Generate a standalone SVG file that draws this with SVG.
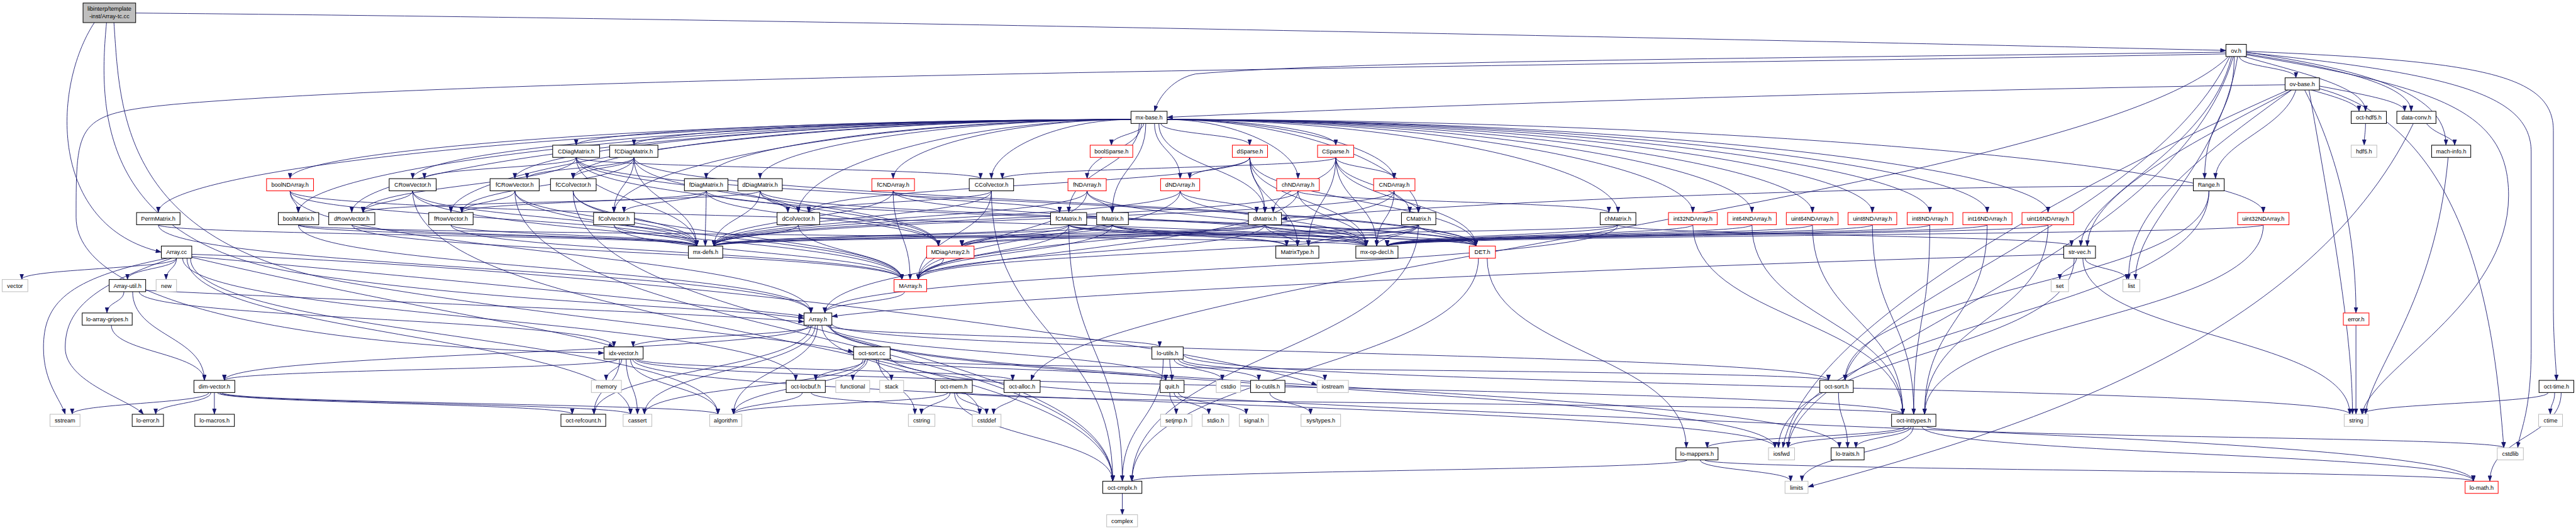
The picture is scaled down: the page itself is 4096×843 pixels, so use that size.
<svg xmlns="http://www.w3.org/2000/svg" width="4096" height="843" viewBox="0 0 4096 843">
<style>
#edges path{fill:none;stroke:#191970;stroke-width:1.3;marker-end:url(#a)}
.n rect{fill:#fff;stroke:#000;stroke-width:1.5}
.r rect{stroke:#ff0000}
.g rect{stroke:#bfbfbf}
text{font-family:"Liberation Sans",Arial,Helvetica,sans-serif;font-size:13.3px;text-anchor:middle;fill:#000}
</style>
<defs>
<marker id="a" viewBox="0 0 14 10" refX="13" refY="5" markerWidth="14" markerHeight="10" markerUnits="userSpaceOnUse" orient="auto"><path d="M0,0L14,5L0,10z" fill="#191970"/></marker>
</defs>
<rect width="4096" height="843" fill="#fff"/>
<g transform="scale(0.69142)">
<g id="edges">
<path d="M312,30 C2000,45 4400,100 5119,116"/>
<path d="M217,52 C120,200 110,520 371,580"/>
<path d="M245,52 C226,250 226,560 700,630 S1650,705 1849,732"/>
<path d="M262,52 C276,250 276,560 800,650 S1850,780 1963,810"/>
<path d="M5150,130 C5150,155 5280,155 5280,179"/>
<path d="M5138,130 C5138,270 5070,270 5070,411"/>
<path d="M5160,130 C5300,170 5440,200 5440,256"/>
<path d="M5166,124 C5400,160 5545,200 5545,256"/>
<path d="M5166,120 C5500,170 5625,230 5625,334"/>
<path d="M5119,120 C4000,135 3100,140 2750,170 C2700,180 2665,220 2655,256"/>
<path d="M5119,124 C3800,150 1200,170 400,240 C175,262 175,280 175,500 C175,700 700,800 1389,812"/>
<path d="M5125,130 C4800,450 2450,650 2371,875"/>
<path d="M5166,118 C5700,140 5872,170 5872,300 L5872,700 C5872,800 5879,840 5879,875"/>
<path d="M5166,121 C5650,170 5821,220 5821,350 L5821,800 C5821,950 5795,990 5790,1030"/>
<path d="M5166,126 C5600,200 5769,250 5769,450 C5769,700 5450,850 5432,953"/>
<path d="M5132,130 C5080,350 4790,450 4785,566"/>
<path d="M5128,130 C4950,500 4260,700 4243,875"/>
<path d="M5136,130 C5000,600 4130,800 4112,1030"/>
<path d="M5146,130 C5100,400 4911,500 4911,643"/>
<path d="M5255,195 C4500,205 3300,240 2684,270"/>
<path d="M5280,207 C5250,300 5095,330 5095,411"/>
<path d="M5334,198 C5450,220 5530,235 5530,256"/>
<path d="M5315,207 C5380,225 5425,240 5425,256"/>
<path d="M5270,207 C5000,350 4805,450 4800,566"/>
<path d="M5300,207 C5400,400 5418,600 5418,720"/>
<path d="M5334,204 C5700,300 5740,800 5758,1030"/>
<path d="M5262,207 C4600,500 4140,800 4100,1030"/>
<path d="M5270,207 C5000,400 4895,500 4895,643"/>
<path d="M5310,207 C5380,600 5410,800 5410,953"/>
<path d="M5440,284 C5440,309 5437,309 5437,334"/>
<path d="M5580,284 C5600,310 5645,315 5645,334"/>
<path d="M5550,284 C5300,800 4600,1000 4158,1120"/>
<path d="M5630,362 C5600,700 5450,850 5440,953"/>
<path d="M2601,275 C1963,275 1325,304 1325,334"/>
<path d="M2601,275 C2030,275 1458,304 1458,334"/>
<path d="M2601,275 C1634,275 667,343 667,411"/>
<path d="M2601,275 C1775,275 949,343 949,411"/>
<path d="M2601,275 C1893,275 1184,343 1184,411"/>
<path d="M2601,275 C1960,275 1318,343 1318,411"/>
<path d="M2601,275 C2113,275 1624,343 1624,411"/>
<path d="M2601,275 C2175,275 1748,343 1748,411"/>
<path d="M2601,275 C2328,275 2054,343 2054,411"/>
<path d="M2601,275 C2441,275 2280,343 2280,411"/>
<path d="M2601,275 C1483,275 364,382 364,489"/>
<path d="M2601,275 C1644,275 686,382 686,489"/>
<path d="M2601,275 C1705,275 809,382 809,489"/>
<path d="M2601,275 C1819,275 1037,382 1037,489"/>
<path d="M2601,275 C2007,275 1412,382 1412,489"/>
<path d="M2601,275 C2219,275 1836,382 1836,489"/>
<path d="M2620,284 C2620,386 2458,386 2458,489"/>
<path d="M2630,284 C2630,309 2556,309 2556,334"/>
<path d="M2625,284 C2625,347 2500,347 2500,411"/>
<path d="M2635,284 C2635,386 2558,386 2558,489"/>
<path d="M2655,284 C2655,347 2714,347 2714,411"/>
<path d="M2670,284 C2670,309 2874,309 2874,334"/>
<path d="M2665,284 C2665,386 2909,386 2909,489"/>
<path d="M2684,275 C2835,275 2985,343 2985,411"/>
<path d="M2684,275 C2878,275 3072,304 3072,334"/>
<path d="M2684,275 C2945,275 3206,343 3206,411"/>
<path d="M2684,275 C2973,275 3262,382 3262,489"/>
<path d="M2684,275 C3203,275 3721,382 3721,489"/>
<path d="M2684,275 C3289,275 3893,382 3893,489"/>
<path d="M2684,275 C3357,275 4029,382 4029,489"/>
<path d="M2684,275 C3426,275 4168,382 4168,489"/>
<path d="M2684,275 C3495,275 4306,382 4306,489"/>
<path d="M2684,275 C3561,275 4438,382 4438,489"/>
<path d="M2684,275 C3627,275 4570,382 4570,489"/>
<path d="M2684,275 C3697,275 4710,382 4710,489"/>
<path d="M2684,275 C3945,275 5205,382 5205,489"/>
<path d="M1325,362 C1325,386 976,386 976,411"/>
<path d="M1325,362 C1325,425 835,425 835,489"/>
<path d="M1325,362 C1325,425 1812,425 1812,489"/>
<path d="M1325,362 C1325,386 2255,386 2255,411"/>
<path d="M1325,362 C1325,464 2158,464 2158,566"/>
<path d="M1325,362 C1325,464 3394,464 3394,566"/>
<path d="M1325,362 C1325,464 1602,464 1602,566"/>
<path d="M1458,362 C1458,386 1212,386 1212,411"/>
<path d="M1458,362 C1458,386 1318,386 1318,411"/>
<path d="M1458,362 C1458,425 1062,425 1062,489"/>
<path d="M1458,362 C1458,425 1412,425 1412,489"/>
<path d="M1458,362 C1458,464 2158,464 2158,566"/>
<path d="M1458,362 C1458,464 3394,464 3394,566"/>
<path d="M1458,362 C1458,464 1602,464 1602,566"/>
<path d="M2874,362 C2874,386 2736,386 2736,411"/>
<path d="M2874,362 C2874,425 2909,425 2909,489"/>
<path d="M2874,362 C2874,425 1860,425 1860,489"/>
<path d="M2874,362 C2874,464 2984,464 2984,566"/>
<path d="M2874,362 C2874,464 3394,464 3394,566"/>
<path d="M2874,362 C2874,464 3142,464 3142,566"/>
<path d="M3072,362 C3072,386 3206,386 3206,411"/>
<path d="M3072,362 C3072,425 3242,425 3242,489"/>
<path d="M3072,362 C3072,386 2305,386 2305,411"/>
<path d="M3072,362 C3072,425 2928,425 2928,489"/>
<path d="M3072,362 C3072,464 3009,464 3009,566"/>
<path d="M3072,362 C3072,464 3394,464 3394,566"/>
<path d="M3072,362 C3072,464 3166,464 3166,566"/>
<path d="M667,439 C667,464 686,464 686,489"/>
<path d="M667,439 C667,502 1602,502 1602,566"/>
<path d="M667,439 C667,502 3142,502 3142,566"/>
<path d="M667,439 C667,580 1865,580 1865,720"/>
<path d="M949,439 C949,464 835,464 835,489"/>
<path d="M949,439 C949,541 2074,541 2074,643"/>
<path d="M949,439 C949,502 1602,502 1602,566"/>
<path d="M949,439 C949,773 2559,773 2559,1107"/>
<path d="M1184,439 C1184,464 1062,464 1062,489"/>
<path d="M1184,439 C1184,541 2074,541 2074,643"/>
<path d="M1184,439 C1184,502 1602,502 1602,566"/>
<path d="M1184,439 C1184,773 2559,773 2559,1107"/>
<path d="M1318,439 C1318,541 2074,541 2074,643"/>
<path d="M1318,439 C1318,502 1602,502 1602,566"/>
<path d="M1318,439 C1318,773 2559,773 2559,1107"/>
<path d="M1624,439 C1624,464 1062,464 1062,489"/>
<path d="M1624,439 C1624,464 1435,464 1435,489"/>
<path d="M1624,439 C1624,502 2158,502 2158,566"/>
<path d="M1624,439 C1624,502 3394,502 3394,566"/>
<path d="M1624,439 C1624,502 1622,502 1622,566"/>
<path d="M1748,439 C1748,464 835,464 835,489"/>
<path d="M1748,439 C1748,464 1836,464 1836,489"/>
<path d="M1748,439 C1748,502 2158,502 2158,566"/>
<path d="M1748,439 C1748,502 3394,502 3394,566"/>
<path d="M1748,439 C1748,502 1642,502 1642,566"/>
<path d="M2054,439 C2054,464 2437,464 2437,489"/>
<path d="M2054,439 C2054,541 2093,541 2093,643"/>
<path d="M2054,439 C2054,502 1642,502 1642,566"/>
<path d="M2054,439 C2054,502 3142,502 3142,566"/>
<path d="M2280,439 C2280,464 1860,464 1860,489"/>
<path d="M2280,439 C2280,541 2112,541 2112,643"/>
<path d="M2280,439 C2280,502 1642,502 1642,566"/>
<path d="M2280,439 C2280,773 2559,773 2559,1107"/>
<path d="M2500,439 C2500,464 2558,464 2558,489"/>
<path d="M2500,439 C2500,541 2112,541 2112,643"/>
<path d="M2500,439 C2500,502 1642,502 1642,566"/>
<path d="M2500,439 C2500,502 3142,502 3142,566"/>
<path d="M2714,439 C2714,464 2890,464 2890,489"/>
<path d="M2714,439 C2714,541 2112,541 2112,643"/>
<path d="M2714,439 C2714,502 1642,502 1642,566"/>
<path d="M2714,439 C2714,502 3142,502 3142,566"/>
<path d="M2985,439 C2985,464 3700,464 3700,489"/>
<path d="M2985,439 C2985,580 1897,580 1897,720"/>
<path d="M2985,439 C2985,502 1642,502 1642,566"/>
<path d="M2985,439 C2985,502 3142,502 3142,566"/>
<path d="M3206,439 C3206,464 3262,464 3262,489"/>
<path d="M3206,439 C3206,541 2112,541 2112,643"/>
<path d="M3206,439 C3206,502 1642,502 1642,566"/>
<path d="M3206,439 C3206,502 3166,502 3166,566"/>
<path d="M5044,427 C4000,430 3200,480 2947,503"/>
<path d="M5080,439 C5080,657 4243,657 4243,875"/>
<path d="M5080,439 C5080,734 4112,734 4112,1030"/>
<path d="M364,517 C364,618 1865,618 1865,720"/>
<path d="M364,517 C364,541 1602,541 1602,566"/>
<path d="M686,517 C686,618 1865,618 1865,720"/>
<path d="M686,517 C686,541 1602,541 1602,566"/>
<path d="M686,517 C686,541 3142,541 3142,566"/>
<path d="M809,517 C809,580 2074,580 2074,643"/>
<path d="M809,517 C809,541 1602,541 1602,566"/>
<path d="M1037,517 C1037,580 2074,580 2074,643"/>
<path d="M1037,517 C1037,541 1602,541 1602,566"/>
<path d="M1412,517 C1412,580 2074,580 2074,643"/>
<path d="M1412,517 C1412,541 1602,541 1602,566"/>
<path d="M1836,517 C1836,580 2074,580 2074,643"/>
<path d="M1836,517 C1836,541 1642,541 1642,566"/>
<path d="M2458,517 C2458,580 2112,580 2112,643"/>
<path d="M2458,517 C2458,541 2212,541 2212,566"/>
<path d="M2458,517 C2458,541 2959,541 2959,566"/>
<path d="M2458,517 C2458,541 3394,541 3394,566"/>
<path d="M2458,517 C2458,541 1642,541 1642,566"/>
<path d="M2458,517 C2458,541 3142,541 3142,566"/>
<path d="M2458,517 C2458,812 2581,812 2581,1107"/>
<path d="M2558,517 C2558,580 2112,580 2112,643"/>
<path d="M2558,517 C2558,541 2212,541 2212,566"/>
<path d="M2558,517 C2558,541 2959,541 2959,566"/>
<path d="M2558,517 C2558,541 3394,541 3394,566"/>
<path d="M2558,517 C2558,541 1642,541 1642,566"/>
<path d="M2558,517 C2558,541 3142,541 3142,566"/>
<path d="M2909,517 C2909,580 2112,580 2112,643"/>
<path d="M2909,517 C2909,541 2212,541 2212,566"/>
<path d="M2909,517 C2909,541 2984,541 2984,566"/>
<path d="M2909,517 C2909,541 3394,541 3394,566"/>
<path d="M2909,517 C2909,541 1642,541 1642,566"/>
<path d="M2909,517 C2909,541 3142,541 3142,566"/>
<path d="M3262,517 C3262,580 2112,580 2112,643"/>
<path d="M3262,517 C3262,541 2212,541 2212,566"/>
<path d="M3262,517 C3262,541 3009,541 3009,566"/>
<path d="M3262,517 C3262,541 3394,541 3394,566"/>
<path d="M3262,517 C3262,541 1642,541 1642,566"/>
<path d="M3262,517 C3262,541 3166,541 3166,566"/>
<path d="M3262,517 C3262,812 2603,812 2603,1107"/>
<path d="M3721,517 C3721,618 1897,618 1897,720"/>
<path d="M3721,517 C3721,541 1642,541 1642,566"/>
<path d="M3721,517 C3721,541 3190,541 3190,566"/>
<path d="M3721,517 C3721,541 4764,541 4764,566"/>
<path d="M3893,517 C3893,735 4376,735 4376,953"/>
<path d="M3893,517 C3893,541 3190,541 3190,566"/>
<path d="M4029,517 C4029,735 4376,735 4376,953"/>
<path d="M4029,517 C4029,541 3190,541 3190,566"/>
<path d="M4168,517 C4168,735 4376,735 4376,953"/>
<path d="M4168,517 C4168,541 3190,541 3190,566"/>
<path d="M4306,517 C4306,735 4401,735 4401,953"/>
<path d="M4306,517 C4306,541 3190,541 3190,566"/>
<path d="M4438,517 C4438,735 4401,735 4401,953"/>
<path d="M4438,517 C4438,541 3190,541 3190,566"/>
<path d="M4570,517 C4570,735 4426,735 4426,953"/>
<path d="M4570,517 C4570,541 3190,541 3190,566"/>
<path d="M4710,517 C4710,735 4426,735 4426,953"/>
<path d="M4710,517 C4710,541 3190,541 3190,566"/>
<path d="M5205,517 C5205,735 4426,735 4426,953"/>
<path d="M5205,517 C5205,541 3190,541 3190,566"/>
<path d="M406,594 C406,618 50,618 50,643"/>
<path d="M406,594 C406,618 293,618 293,643"/>
<path d="M406,594 C406,618 382,618 382,643"/>
<path d="M385,594 C150,640 100,700 100,800 C100,880 140,920 150,953"/>
<path d="M395,594 C200,660 150,720 150,800 C150,880 300,920 330,953"/>
<path d="M441,590 C1000,640 1600,700 1849,727"/>
<path d="M441,592 C900,700 1300,760 1412,798"/>
<path d="M420,594 C420,734 1830,734 1830,875"/>
<path d="M430,594 C430,773 1450,773 1450,953"/>
<path d="M438,594 C438,773 1651,773 1651,953"/>
<path d="M441,585 C1500,620 2800,800 3029,886"/>
<path d="M2170,594 C2170,618 2112,618 2112,643"/>
<path d="M3420,594 C3420,812 3878,812 3878,1030"/>
<path d="M3400,594 C3400,850 2603,850 2603,1107"/>
<path d="M4775,594 C4775,618 4737,618 4737,643"/>
<path d="M4795,594 C4795,618 4891,618 4891,643"/>
<path d="M4790,594 C4790,773 5404,773 5404,953"/>
<path d="M4770,594 C4770,812 4090,812 4090,1030"/>
<path d="M4746,585 C3500,620 2200,690 1913,728"/>
<path d="M285,671 C285,695 246,695 246,720"/>
<path d="M305,671 C305,773 470,773 470,875"/>
<path d="M335,668 C1000,700 1600,720 1849,740"/>
<path d="M320,671 C320,734 1412,734 1412,798"/>
<path d="M2080,671 C2080,695 1897,695 1897,720"/>
<path d="M256,748 C256,811 470,811 470,875"/>
<path d="M1870,748 C1870,773 1456,773 1456,798"/>
<path d="M1860,748 C1860,811 516,811 516,875"/>
<path d="M1865,748 C1865,850 1366,850 1366,953"/>
<path d="M1875,748 C1875,850 1482,850 1482,953"/>
<path d="M1880,748 C1880,850 1687,850 1687,953"/>
<path d="M1890,748 C1890,850 2253,850 2253,953"/>
<path d="M1900,748 C1900,773 2667,773 2667,798"/>
<path d="M1905,748 C1905,811 2681,811 2681,875"/>
<path d="M1913,745 C1913,811 4205,811 4205,875"/>
<path d="M1910,748 C1910,889 4230,889 4230,1030"/>
<path d="M1908,748 C1908,889 4082,889 4082,1030"/>
<path d="M5418,748 L5418,953"/>
<path d="M1420,826 C1420,850 516,850 516,875"/>
<path d="M1425,826 C1425,889 1366,889 1366,953"/>
<path d="M1430,826 C1430,850 1394,850 1394,875"/>
<path d="M1440,826 C1440,889 1466,889 1466,953"/>
<path d="M1450,826 C1450,889 1651,889 1651,953"/>
<path d="M1460,826 C1460,889 4376,889 4376,953"/>
<path d="M1455,826 C1455,928 4082,928 4082,1030"/>
<path d="M1465,826 C1465,850 2329,850 2329,875"/>
<path d="M2030,826 C2030,850 4205,850 4205,875"/>
<path d="M1990,826 C1990,850 1876,850 1876,875"/>
<path d="M1995,826 C1995,850 1961,850 1961,875"/>
<path d="M2015,826 C2015,850 2050,850 2050,875"/>
<path d="M2020,826 C2020,889 2104,889 2104,953"/>
<path d="M1990,826 C1990,889 1687,889 1687,953"/>
<path d="M1985,826 C1985,889 1482,889 1482,953"/>
<path d="M2040,826 C2040,850 2681,850 2681,875"/>
<path d="M2047,820 C2047,966 5688,966 5688,1107"/>
<path d="M2690,826 C2690,850 2695,850 2695,875"/>
<path d="M2700,826 C2700,850 2811,850 2811,875"/>
<path d="M2710,826 C2710,850 2895,850 2895,875"/>
<path d="M2675,826 C2675,966 2581,966 2581,1107"/>
<path d="M2718,826 C2718,850 3047,850 3047,875"/>
<path d="M2721,815 C2721,889 5404,889 5404,953"/>
<path d="M480,903 C480,928 166,928 166,953"/>
<path d="M485,903 C485,928 358,928 358,953"/>
<path d="M493,903 L493,953"/>
<path d="M500,903 C500,928 1316,928 1316,953"/>
<path d="M505,903 C505,928 1450,928 1450,953"/>
<path d="M510,903 C510,928 1651,928 1651,953"/>
<path d="M1845,903 C1845,928 1687,928 1687,953"/>
<path d="M1865,903 C1865,928 2253,928 2253,953"/>
<path d="M2185,903 C2185,928 2119,928 2119,953"/>
<path d="M2200,903 C2200,928 2269,928 2269,953"/>
<path d="M2195,903 C2195,1005 2559,1005 2559,1107"/>
<path d="M2210,903 C2210,928 4376,928 4376,953"/>
<path d="M2180,903 C2180,928 1687,928 1687,953"/>
<path d="M2345,903 C2345,928 2285,928 2285,953"/>
<path d="M2690,903 C2690,928 2705,928 2705,953"/>
<path d="M2700,903 C2700,928 2780,928 2780,953"/>
<path d="M2710,903 C2710,928 2866,928 2866,953"/>
<path d="M2920,903 C2920,928 3014,928 3014,953"/>
<path d="M4228,903 C4228,966 4249,966 4249,1030"/>
<path d="M5860,903 C5860,928 5432,928 5432,953"/>
<path d="M5875,903 C5875,928 5865,928 5865,953"/>
<path d="M5890,903 C5890,1005 5726,1005 5726,1107"/>
<path d="M4380,981 C4380,1005 3926,1005 3926,1030"/>
<path d="M4390,981 C4390,1005 4112,1005 4112,1030"/>
<path d="M4395,981 C4395,1005 4268,1005 4268,1030"/>
<path d="M4400,981 C4400,1044 4144,1044 4144,1107"/>
<path d="M4420,981 C4420,1044 5688,1044 5688,1107"/>
<path d="M4430,981 C4430,1005 5758,1005 5758,1030"/>
<path d="M3910,1058 C3910,1082 4118,1082 4118,1107"/>
<path d="M3920,1058 C3920,1082 5688,1082 5688,1107"/>
<path d="M3880,1058 C3880,1082 2603,1082 2603,1107"/>
<path d="M2581,1135 L2581,1184"/>
</g>
<g id="root" class="n"><rect x="191" y="7" width="121" height="45" fill="#bfbfbf" style="fill:#bfbfbf"/><text x="251.5" y="24.7">libinterp/template</text><text x="251.5" y="41.7">-inst/Array-tc.cc</text></g>
<g id="ov_h" class="n"><rect x="5119" y="102" width="47" height="28"/><text x="5142.5" y="121">ov.h</text></g>
<g id="ov_base_h" class="n"><rect x="5255" y="179" width="79" height="28"/><text x="5294.5" y="198">ov-base.h</text></g>
<g id="mx_base_h" class="n"><rect x="2601" y="256" width="83" height="28"/><text x="2642.5" y="275">mx-base.h</text></g>
<g id="oct_hdf5_h" class="n"><rect x="5407" y="256" width="81" height="28"/><text x="5447.5" y="275">oct-hdf5.h</text></g>
<g id="data_conv_h" class="n"><rect x="5512" y="256" width="90" height="28"/><text x="5557" y="275">data-conv.h</text></g>
<g id="CDiagMatrix_h" class="n"><rect x="1271" y="334" width="108" height="28"/><text x="1325" y="353">CDiagMatrix.h</text></g>
<g id="fCDiagMatrix_h" class="n"><rect x="1402" y="334" width="111" height="28"/><text x="1457.5" y="353">fCDiagMatrix.h</text></g>
<g id="boolSparse_h" class="n r"><rect x="2507" y="334" width="98" height="28"/><text x="2556" y="353">boolSparse.h</text></g>
<g id="dSparse_h" class="n r"><rect x="2834" y="334" width="81" height="28"/><text x="2874.5" y="353">dSparse.h</text></g>
<g id="CSparse_h" class="n r"><rect x="3030" y="334" width="83" height="28"/><text x="3071.5" y="353">CSparse.h</text></g>
<g id="hdf5_h" class="n g"><rect x="5407" y="334" width="59" height="28"/><text x="5436.5" y="353">hdf5.h</text></g>
<g id="mach_info_h" class="n"><rect x="5592" y="334" width="90" height="28"/><text x="5637" y="353">mach-info.h</text></g>
<g id="boolNDArray_h" class="n r"><rect x="613" y="411" width="108" height="28"/><text x="667" y="430">boolNDArray.h</text></g>
<g id="CRowVector_h" class="n"><rect x="895" y="411" width="108" height="28"/><text x="949" y="430">CRowVector.h</text></g>
<g id="fCRowVector_h" class="n"><rect x="1127" y="411" width="113" height="28"/><text x="1183.5" y="430">fCRowVector.h</text></g>
<g id="fCColVector_h" class="n"><rect x="1266" y="411" width="105" height="28"/><text x="1318.5" y="430">fCColVector.h</text></g>
<g id="fDiagMatrix_h" class="n"><rect x="1574" y="411" width="100" height="28"/><text x="1624" y="430">fDiagMatrix.h</text></g>
<g id="dDiagMatrix_h" class="n"><rect x="1697" y="411" width="102" height="28"/><text x="1748" y="430">dDiagMatrix.h</text></g>
<g id="fCNDArray_h" class="n r"><rect x="2005" y="411" width="98" height="28"/><text x="2054" y="430">fCNDArray.h</text></g>
<g id="CColVector_h" class="n"><rect x="2229" y="411" width="102" height="28"/><text x="2280" y="430">CColVector.h</text></g>
<g id="fNDArray_h" class="n r"><rect x="2456" y="411" width="88" height="28"/><text x="2500" y="430">fNDArray.h</text></g>
<g id="dNDArray_h" class="n r"><rect x="2669" y="411" width="90" height="28"/><text x="2714" y="430">dNDArray.h</text></g>
<g id="chNDArray_h" class="n r"><rect x="2936" y="411" width="98" height="28"/><text x="2985" y="430">chNDArray.h</text></g>
<g id="CNDArray_h" class="n r"><rect x="3159" y="411" width="95" height="28"/><text x="3206.5" y="430">CNDArray.h</text></g>
<g id="Range_h" class="n"><rect x="5044" y="411" width="71" height="28"/><text x="5079.5" y="430">Range.h</text></g>
<g id="PermMatrix_h" class="n"><rect x="314" y="489" width="100" height="28"/><text x="364" y="508">PermMatrix.h</text></g>
<g id="boolMatrix_h" class="n"><rect x="640" y="489" width="93" height="28"/><text x="686.5" y="508">boolMatrix.h</text></g>
<g id="dRowVector_h" class="n"><rect x="756" y="489" width="106" height="28"/><text x="809" y="508">dRowVector.h</text></g>
<g id="fRowVector_h" class="n"><rect x="986" y="489" width="102" height="28"/><text x="1037" y="508">fRowVector.h</text></g>
<g id="fColVector_h" class="n"><rect x="1365" y="489" width="94" height="28"/><text x="1412" y="508">fColVector.h</text></g>
<g id="dColVector_h" class="n"><rect x="1787" y="489" width="98" height="28"/><text x="1836" y="508">dColVector.h</text></g>
<g id="fCMatrix_h" class="n"><rect x="2416" y="489" width="83" height="28"/><text x="2457.5" y="508">fCMatrix.h</text></g>
<g id="fMatrix_h" class="n"><rect x="2522" y="489" width="73" height="28"/><text x="2558.5" y="508">fMatrix.h</text></g>
<g id="dMatrix_h" class="n"><rect x="2871" y="489" width="76" height="28"/><text x="2909" y="508">dMatrix.h</text></g>
<g id="CMatrix_h" class="n"><rect x="3223" y="489" width="79" height="28"/><text x="3262.5" y="508">CMatrix.h</text></g>
<g id="chMatrix_h" class="n"><rect x="3680" y="489" width="82" height="28"/><text x="3721" y="508">chMatrix.h</text></g>
<g id="int32NDArray_h" class="n r"><rect x="3837" y="489" width="112" height="28"/><text x="3893" y="508">int32NDArray.h</text></g>
<g id="int64NDArray_h" class="n r"><rect x="3973" y="489" width="112" height="28"/><text x="4029" y="508">int64NDArray.h</text></g>
<g id="uint64NDArray_h" class="n r"><rect x="4108" y="489" width="119" height="28"/><text x="4167.5" y="508">uint64NDArray.h</text></g>
<g id="uint8NDArray_h" class="n r"><rect x="4250" y="489" width="112" height="28"/><text x="4306" y="508">uint8NDArray.h</text></g>
<g id="int8NDArray_h" class="n r"><rect x="4386" y="489" width="105" height="28"/><text x="4438.5" y="508">int8NDArray.h</text></g>
<g id="int16NDArray_h" class="n r"><rect x="4514" y="489" width="113" height="28"/><text x="4570.5" y="508">int16NDArray.h</text></g>
<g id="uint16NDArray_h" class="n r"><rect x="4650" y="489" width="119" height="28"/><text x="4709.5" y="508">uint16NDArray.h</text></g>
<g id="uint32NDArray_h" class="n r"><rect x="5146" y="489" width="118" height="28"/><text x="5205" y="508">uint32NDArray.h</text></g>
<g id="Array_cc" class="n"><rect x="371" y="566" width="70" height="28"/><text x="406" y="585">Array.cc</text></g>
<g id="mx_defs_h" class="n"><rect x="1583" y="566" width="79" height="28"/><text x="1622.5" y="585">mx-defs.h</text></g>
<g id="MDiagArray2_h" class="n r"><rect x="2131" y="566" width="109" height="28"/><text x="2185.5" y="585">MDiagArray2.h</text></g>
<g id="MatrixType_h" class="n"><rect x="2934" y="566" width="99" height="28"/><text x="2983.5" y="585">MatrixType.h</text></g>
<g id="mx_op_decl_h" class="n"><rect x="3118" y="566" width="97" height="28"/><text x="3166.5" y="585">mx-op-decl.h</text></g>
<g id="DET_h" class="n r"><rect x="3379" y="566" width="60" height="28"/><text x="3409" y="585">DET.h</text></g>
<g id="str_vec_h" class="n"><rect x="4746" y="566" width="73" height="28"/><text x="4782.5" y="585">str-vec.h</text></g>
<g id="vector" class="n g"><rect x="5" y="643" width="59" height="28"/><text x="34.5" y="662">vector</text></g>
<g id="Array_util_h" class="n"><rect x="251" y="643" width="84" height="28"/><text x="293" y="662">Array-util.h</text></g>
<g id="new" class="n g"><rect x="359" y="643" width="47" height="28"/><text x="382.5" y="662">new</text></g>
<g id="MArray_h" class="n r"><rect x="2056" y="643" width="75" height="28"/><text x="2093.5" y="662">MArray.h</text></g>
<g id="set" class="n g"><rect x="4717" y="643" width="40" height="28"/><text x="4737" y="662">set</text></g>
<g id="list" class="n g"><rect x="4882" y="643" width="39" height="28"/><text x="4901.5" y="662">list</text></g>
<g id="lo_array_gripes_h" class="n"><rect x="189" y="720" width="115" height="28"/><text x="246.5" y="739">lo-array-gripes.h</text></g>
<g id="Array_h" class="n"><rect x="1849" y="720" width="64" height="28"/><text x="1881" y="739">Array.h</text></g>
<g id="error_h" class="n r"><rect x="5389" y="720" width="59" height="28"/><text x="5418.5" y="739">error.h</text></g>
<g id="idx_vector_h" class="n"><rect x="1389" y="798" width="90" height="28"/><text x="1434" y="817">idx-vector.h</text></g>
<g id="oct_sort_cc" class="n"><rect x="1963" y="798" width="84" height="28"/><text x="2005" y="817">oct-sort.cc</text></g>
<g id="lo_utils_h" class="n"><rect x="2649" y="798" width="72" height="28"/><text x="2685" y="817">lo-utils.h</text></g>
<g id="dim_vector_h" class="n"><rect x="446" y="875" width="94" height="28"/><text x="493" y="894">dim-vector.h</text></g>
<g id="memory" class="n g"><rect x="1360" y="875" width="69" height="28"/><text x="1394.5" y="894">memory</text></g>
<g id="oct_locbuf_h" class="n"><rect x="1808" y="875" width="90" height="28"/><text x="1853" y="894">oct-locbuf.h</text></g>
<g id="functional" class="n g"><rect x="1922" y="875" width="78" height="28"/><text x="1961" y="894">functional</text></g>
<g id="stack" class="n g"><rect x="2023" y="875" width="55" height="28"/><text x="2050.5" y="894">stack</text></g>
<g id="oct_mem_h" class="n"><rect x="2151" y="875" width="85" height="28"/><text x="2193.5" y="894">oct-mem.h</text></g>
<g id="oct_alloc_h" class="n"><rect x="2309" y="875" width="83" height="28"/><text x="2350.5" y="894">oct-alloc.h</text></g>
<g id="quit_h" class="n"><rect x="2668" y="875" width="55" height="28"/><text x="2695.5" y="894">quit.h</text></g>
<g id="cstdio" class="n g"><rect x="2797" y="875" width="56" height="28"/><text x="2825" y="894">cstdio</text></g>
<g id="lo_cutils_h" class="n"><rect x="2876" y="875" width="79" height="28"/><text x="2915.5" y="894">lo-cutils.h</text></g>
<g id="iostream" class="n g"><rect x="3029" y="875" width="72" height="28"/><text x="3065" y="894">iostream</text></g>
<g id="oct_sort_h" class="n"><rect x="4185" y="875" width="77" height="28"/><text x="4223.5" y="894">oct-sort.h</text></g>
<g id="oct_time_h" class="n"><rect x="5839" y="875" width="80" height="28"/><text x="5879" y="894">oct-time.h</text></g>
<g id="sstream" class="n g"><rect x="115" y="953" width="69" height="28"/><text x="149.5" y="972">sstream</text></g>
<g id="lo_error_h" class="n"><rect x="304" y="953" width="72" height="28"/><text x="340" y="972">lo-error.h</text></g>
<g id="lo_macros_h" class="n"><rect x="448" y="953" width="91" height="28"/><text x="493.5" y="972">lo-macros.h</text></g>
<g id="oct_refcount_h" class="n"><rect x="1290" y="953" width="103" height="28"/><text x="1341.5" y="972">oct-refcount.h</text></g>
<g id="cassert" class="n g"><rect x="1433" y="953" width="66" height="28"/><text x="1466" y="972">cassert</text></g>
<g id="algorithm" class="n g"><rect x="1632" y="953" width="74" height="28"/><text x="1669" y="972">algorithm</text></g>
<g id="cstring" class="n g"><rect x="2089" y="953" width="61" height="28"/><text x="2119.5" y="972">cstring</text></g>
<g id="cstddef" class="n g"><rect x="2236" y="953" width="66" height="28"/><text x="2269" y="972">cstddef</text></g>
<g id="setjmp_h" class="n g"><rect x="2669" y="953" width="72" height="28"/><text x="2705" y="972">setjmp.h</text></g>
<g id="stdio_h" class="n g"><rect x="2765" y="953" width="61" height="28"/><text x="2795.5" y="972">stdio.h</text></g>
<g id="signal_h" class="n g"><rect x="2850" y="953" width="67" height="28"/><text x="2883.5" y="972">signal.h</text></g>
<g id="sys_types_h" class="n g"><rect x="2992" y="953" width="91" height="28"/><text x="3037.5" y="972">sys/types.h</text></g>
<g id="oct_inttypes_h" class="n"><rect x="4350" y="953" width="102" height="28"/><text x="4401" y="972">oct-inttypes.h</text></g>
<g id="string" class="n g"><rect x="5391" y="953" width="55" height="28"/><text x="5418.5" y="972">string</text></g>
<g id="ctime" class="n g"><rect x="5838" y="953" width="55" height="28"/><text x="5865.5" y="972">ctime</text></g>
<g id="lo_mappers_h" class="n"><rect x="3854" y="1030" width="97" height="28"/><text x="3902.5" y="1049">lo-mappers.h</text></g>
<g id="iosfwd" class="n g"><rect x="4067" y="1030" width="60" height="28"/><text x="4097" y="1049">iosfwd</text></g>
<g id="lo_traits_h" class="n"><rect x="4211" y="1030" width="76" height="28"/><text x="4249" y="1049">lo-traits.h</text></g>
<g id="cstdlib" class="n g"><rect x="5743" y="1030" width="60" height="28"/><text x="5773" y="1049">cstdlib</text></g>
<g id="oct_cmplx_h" class="n"><rect x="2536" y="1107" width="90" height="28"/><text x="2581" y="1126">oct-cmplx.h</text></g>
<g id="limits" class="n g"><rect x="4105" y="1107" width="53" height="28"/><text x="4131.5" y="1126">limits</text></g>
<g id="lo_math_h" class="n r"><rect x="5669" y="1107" width="76" height="28"/><text x="5707" y="1126">lo-math.h</text></g>
<g id="complex" class="n g"><rect x="2545" y="1184" width="71" height="28"/><text x="2580.5" y="1203">complex</text></g>
</g>
</svg>
